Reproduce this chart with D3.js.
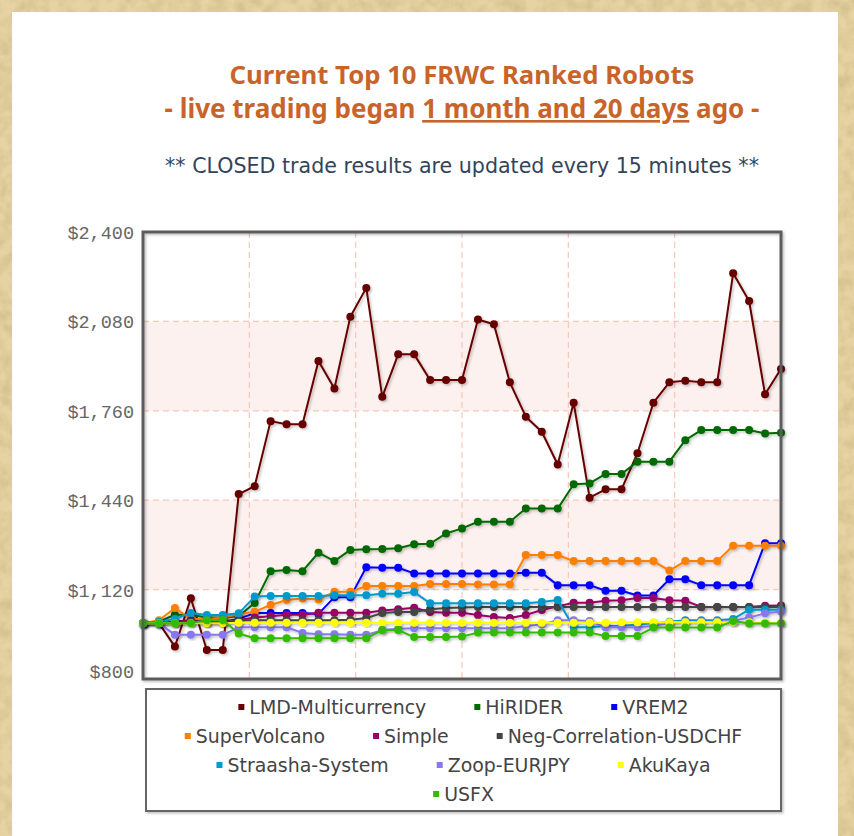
<!DOCTYPE html>
<html>
<head>
<meta charset="utf-8">
<script src="https://cdn.jsdelivr.net/npm/d3@7"></script>
<style>
  body { margin: 0; background: #e4cf9f; }
  svg { display: block; }
</style>
</head>
<body>
<div id="chart"></div>
<script>
// values, one point per update (41 points)
const lmdMulticurrency = [1000, 1000, 916, 1089, 904, 904, 1462, 1490, 1723, 1712, 1712, 1938, 1840, 2097, 2200, 1810, 1962, 1962, 1870, 1870, 1870, 2087, 2070, 1862, 1739, 1685, 1568, 1789, 1449, 1479, 1479, 1608, 1789, 1862, 1868, 1862, 1862, 2252, 2153, 1819, 1910];
const hiRider = [1000, 1005, 1030, 1030, 1020, 1020, 1025, 1072, 1186, 1190, 1186, 1252, 1222, 1262, 1264, 1265, 1268, 1282, 1284, 1321, 1339, 1363, 1363, 1363, 1410, 1410, 1410, 1497, 1500, 1534, 1534, 1578, 1578, 1578, 1655, 1691, 1691, 1691, 1691, 1679, 1681];
const vrem2 = [1000, 1000, 1005, 1010, 1005, 1005, 1015, 1036, 1036, 1036, 1036, 1033, 1093, 1093, 1200, 1198, 1198, 1178, 1178, 1178, 1178, 1178, 1178, 1178, 1180, 1180, 1136, 1136, 1136, 1116, 1116, 1099, 1099, 1157, 1157, 1136, 1136, 1136, 1136, 1286, 1286];
const superVolcano = [1000, 1010, 1054, 1015, 1015, 1020, 1032, 1041, 1065, 1083, 1088, 1085, 1112, 1112, 1133, 1133, 1133, 1133, 1140, 1140, 1140, 1138, 1138, 1138, 1244, 1244, 1244, 1222, 1222, 1222, 1222, 1222, 1222, 1188, 1222, 1222, 1222, 1277, 1277, 1277, 1277];
const simple = [1000, 1000, 1005, 1010, 1000, 1000, 1010, 1020, 1025, 1030, 1030, 1037, 1037, 1037, 1037, 1045, 1050, 1055, 1040, 1037, 1037, 1029, 1022, 1018, 1029, 1047, 1060, 1073, 1073, 1080, 1082, 1090, 1090, 1082, 1080, 1058, 1058, 1058, 1058, 1062, 1063];
const negCorrelation = [1000, 1000, 1000, 1005, 1005, 1005, 1010, 1010, 1010, 1010, 1010, 1010, 1010, 1012, 1018, 1036, 1040, 1040, 1050, 1054, 1056, 1058, 1058, 1058, 1058, 1058, 1058, 1058, 1058, 1058, 1058, 1058, 1058, 1058, 1058, 1058, 1058, 1058, 1058, 1058, 1058];
const straasha = [1000, 1005, 1015, 1036, 1029, 1029, 1035, 1095, 1097, 1097, 1097, 1097, 1100, 1100, 1100, 1105, 1105, 1111, 1071, 1071, 1071, 1071, 1071, 1071, 1071, 1076, 1083, 985, 985, 990, 990, 995, 1000, 1005, 1010, 1010, 1010, 1015, 1048, 1048, 1048];
const zoopEurjpy = [1000, 1000, 958, 958, 958, 958, 985, 985, 985, 985, 965, 960, 960, 958, 958, 975, 980, 982, 982, 982, 982, 982, 982, 982, 990, 995, 1010, 1010, 1008, 985, 985, 985, 990, 1000, 1005, 1005, 1005, 1008, 1020, 1035, 1042];
const akuKaya = [1000, 1000, 1000, 1000, 1000, 1000, 1001, 1001, 1001, 1001, 1001, 1001, 1001, 1001, 1001, 1001, 1001, 1001, 1001, 1001, 1001, 1001, 1001, 1001, 1001, 1001, 1001, 1001, 1001, 1001, 1003, 1003, 1003, 1003, 1003, 1003, 1003, 1003, 1003, 1001, 1001];
const usfx = [1000, 1000, 1000, 1000, 1010, 1011, 963, 946, 946, 946, 946, 946, 946, 946, 946, 975, 975, 950, 950, 950, 952, 966, 966, 966, 966, 966, 966, 966, 966, 954, 954, 954, 984, 984, 984, 984, 984, 1008, 999, 999, 999];

const seriesNames = ["LMD-Multicurrency", "HiRIDER", "VREM2", "SuperVolcano", "Simple",
  "Neg-Correlation-USDCHF", "Straasha-System", "Zoop-EURJPY", "AkuKaya", "USFX"];
const seriesValues = [lmdMulticurrency, hiRider, vrem2, superVolcano, simple,
  negCorrelation, straasha, zoopEurjpy, akuKaya, usfx];
const seriesColors = ["#660000", "#006a00", "#0000ff", "#ff7f00", "#990066",
  "#444444", "#0099cc", "#8878ee", "#ffff00", "#33bb00"];

const yTicks = [800, 1120, 1440, 1760, 2080, 2400];
const xDivisions = 6;

const W = 854, H = 836;
const plot = {left: 143, right: 781, top: 232, bottom: 679};

const svg = d3.select("#chart").append("svg")
  .attr("width", W)
  .attr("height", H);

const defs = svg.append("defs");
const paper = defs.append("filter").attr("id", "paper");
paper.append("feTurbulence")
  .attr("type", "fractalNoise")
  .attr("baseFrequency", "0.08")
  .attr("numOctaves", 3)
  .attr("seed", 4);
paper.append("feColorMatrix")
  .attr("values", "0 0 0 0 0.55  0 0 0 0 0.42  0 0 0 0 0.2  0 0 0 1.6 -0.55");

const shadow = defs.append("filter").attr("id", "shadow")
  .attr("x", "-5%").attr("y", "-5%").attr("width", "110%").attr("height", "110%");
shadow.append("feDropShadow")
  .attr("dx", 1.5).attr("dy", 1.5).attr("stdDeviation", 0.9)
  .attr("flood-color", "#000").attr("flood-opacity", 0.25);

// page background
svg.append("rect").attr("width", W).attr("height", H).attr("fill", "#e6d2a2");
svg.append("rect").attr("width", W).attr("height", H).attr("filter", "url(#paper)").attr("opacity", 0.6);
svg.append("rect")
  .attr("x", 12).attr("y", 12)
  .attr("width", 826).attr("height", H)
  .attr("fill", "#ffffff");

function fitWidth(sel, target) {
  const w = sel.node().getComputedTextLength();
  const fs = parseFloat(sel.attr("font-size"));
  sel.attr("font-size", (fs * target / w).toFixed(2));
}

const cx = (plot.left + plot.right) / 2;

// titles
const t1 = svg.append("text")
  .attr("x", cx).attr("y", 84)
  .attr("text-anchor", "middle")
  .attr("font-family", "'Noto Sans', sans-serif")
  .attr("font-weight", "bold")
  .attr("font-size", 23)
  .attr("fill", "#c8642a")
  .text("Current Top 10 FRWC Ranked Robots");
fitWidth(t1, 465);

const t2 = svg.append("text")
  .attr("x", cx).attr("y", 118)
  .attr("text-anchor", "middle")
  .attr("font-family", "'Noto Sans', sans-serif")
  .attr("font-weight", "bold")
  .attr("font-size", 23)
  .attr("fill", "#c8642a");
t2.append("tspan").text("- live trading began ");
t2.append("tspan").attr("text-decoration", "underline").text("1 month and 20 days");
t2.append("tspan").text(" ago -");
fitWidth(t2, 595);

const t3 = svg.append("text")
  .attr("x", cx).attr("y", 173)
  .attr("text-anchor", "middle")
  .attr("font-family", "'DejaVu Sans', sans-serif")
  .attr("font-size", 17)
  .attr("fill", "#33445a")
  .text("** CLOSED trade results are updated every 15 minutes **");
fitWidth(t3, 594);

// scales
const x = d3.scaleLinear().domain([0, lmdMulticurrency.length - 1]).range([plot.left, plot.right]);
const y = d3.scaleLinear().domain([yTicks[0], yTicks[yTicks.length - 1]]).range([plot.bottom, plot.top]);

const g = svg.append("g");

// plot background with alternating bands
g.append("rect")
  .attr("x", plot.left).attr("y", plot.top)
  .attr("width", plot.right - plot.left).attr("height", plot.bottom - plot.top)
  .attr("fill", "#ffffff");

g.selectAll(".band")
  .data(d3.pairs(yTicks).filter((d, i) => i % 2 === 1))
  .enter()
  .append("rect")
  .attr("x", plot.left)
  .attr("y", d => y(d[1]))
  .attr("width", plot.right - plot.left)
  .attr("height", d => y(d[0]) - y(d[1]))
  .attr("fill", "#fcf1ef");

// dashed grid
const xGrid = d3.range(1, xDivisions).map(k => x.domain()[1] * k / xDivisions);
g.selectAll(".vgrid")
  .data(xGrid)
  .enter()
  .append("line")
  .attr("x1", d => x(d)).attr("x2", d => x(d))
  .attr("y1", plot.top).attr("y2", plot.bottom)
  .attr("stroke", "#f6c8b8")
  .attr("stroke-width", 1.2)
  .attr("stroke-dasharray", "6,4");

g.selectAll(".hgrid")
  .data(yTicks.slice(1, -1))
  .enter()
  .append("line")
  .attr("x1", plot.left).attr("x2", plot.right)
  .attr("y1", d => y(d)).attr("y2", d => y(d))
  .attr("stroke", "#f6c8b8")
  .attr("stroke-width", 1.2)
  .attr("stroke-dasharray", "6,4");

// y axis labels
const yAxis = d3.axisLeft(y)
  .tickValues(yTicks)
  .tickSize(0)
  .tickPadding(8)
  .tickFormat(d => "$" + d3.format(",")(d));

const yAxisG = svg.append("g")
  .attr("transform", "translate(" + (plot.left - 1) + ",0)")
  .call(yAxis);
yAxisG.select(".domain").remove();
yAxisG.selectAll("text")
  .attr("font-family", "'Liberation Mono', monospace")
  .attr("font-size", 18.5)
  .attr("fill", "#666666")
  .attr("dy", "0.35em")
  .attr("transform", d => d === yTicks[0] ? "translate(0,-8)" : null);

// series
const line = d3.line()
  .x((d, i) => x(i))
  .y(d => y(d));

seriesValues.forEach((vals, k) => {
  const sg = svg.append("g").attr("filter", "url(#shadow)");
  sg.append("path")
    .datum(vals)
    .attr("d", line)
    .attr("fill", "none")
    .attr("stroke", seriesColors[k])
    .attr("stroke-width", 2)
    .attr("stroke-linejoin", "round");
  sg.selectAll("circle")
    .data(vals)
    .enter()
    .append("circle")
    .attr("cx", (d, i) => x(i))
    .attr("cy", d => y(d))
    .attr("r", 4)
    .attr("fill", seriesColors[k]);
});

// plot border
svg.append("rect")
  .attr("x", plot.left).attr("y", plot.top)
  .attr("width", plot.right - plot.left).attr("height", plot.bottom - plot.top)
  .attr("fill", "none")
  .attr("stroke", "#5c5c5c")
  .attr("stroke-width", 3)
  .attr("filter", "url(#shadow)");

// legend
const legendBox = {x: 146, y: 689, w: 635, h: 122};
svg.append("rect")
  .attr("x", legendBox.x).attr("y", legendBox.y)
  .attr("width", legendBox.w).attr("height", legendBox.h)
  .attr("fill", "#ffffff")
  .attr("stroke", "#666666")
  .attr("stroke-width", 2)
  .attr("filter", "url(#shadow)");

const legendG = svg.append("g");
const perRow = 3, rowStep = 29, itemGap = 48, markerSize = 6, textGap = 11;
const legendCx = legendBox.x + legendBox.w / 2;

// pick a font size so the first label matches the picture
const probe = legendG.append("text")
  .attr("font-family", "'DejaVu Sans', sans-serif")
  .attr("font-size", 16)
  .text(seriesNames[0]);
fitWidth(probe, 177);
const legendFont = probe.attr("font-size");
probe.remove();

d3.range(0, seriesNames.length, perRow).forEach((start, row) => {
  const names = seriesNames.slice(start, start + perRow);
  const rowY = legendBox.y + 18 + row * rowStep;
  const items = names.map((name, j) => {
    const ig = legendG.append("g");
    ig.append("rect")
      .attr("y", rowY - markerSize / 2)
      .attr("width", markerSize).attr("height", markerSize)
      .attr("fill", seriesColors[start + j]);
    const tx = ig.append("text")
      .attr("x", textGap)
      .attr("y", rowY)
      .attr("dy", "0.35em")
      .attr("font-family", "'DejaVu Sans', sans-serif")
      .attr("font-size", legendFont)
      .attr("fill", "#444444")
      .text(name);
    return {g: ig, w: textGap + tx.node().getComputedTextLength()};
  });
  const total = d3.sum(items, d => d.w) + itemGap * (items.length - 1);
  let cur = legendCx - total / 2;
  items.forEach(it => {
    it.g.attr("transform", "translate(" + cur + ",0)");
    cur += it.w + itemGap;
  });
});
</script>
</body>
</html>
